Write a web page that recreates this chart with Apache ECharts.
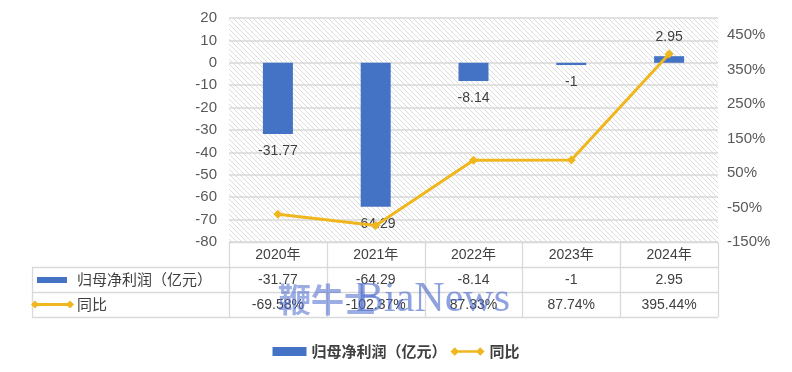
<!DOCTYPE html>
<html>
<head>
<meta charset="utf-8">
<script src="https://cdn.jsdelivr.net/npm/echarts@6/dist/echarts.min.js"></script>
<style>
html,body{margin:0;padding:0;background:#fff;}
#main{width:792px;height:372px;}
</style>
</head>
<body>
<div id="main"></div>
<script>
// ---- data ----
const categories = ['2020年', '2021年', '2022年', '2023年', '2024年'];
const profit = [-31.77, -64.29, -8.14, -1, 2.95];
const yoy = [-69.58, -102.37, 87.33, 87.74, 395.44];
const seriesNames = ['归母净利润（亿元）', '同比'];
const watermarkCN = '鞭牛士';
const watermarkEN = 'BiaNews';

// ---- layout ----
const W = 792, H = 372;
const G = { left: 229, right: 718, top: 18, bottom: 242 };
const rowH = 25;
const tableLeft = 32;
const BLUE = '#4472C4';
const GOLD = '#F0B61E';
const TXT = '#404040';
const AX = '#595959';
const BORDER = '#D9D9D9';
const FONT = "'Liberation Sans','Noto Sans CJK SC',sans-serif";

// hatch pattern
const pc = document.createElement('canvas');
pc.width = 5; pc.height = 5;
const ctx = pc.getContext('2d');
ctx.fillStyle = '#fff';
ctx.fillRect(0, 0, 5, 5);
ctx.strokeStyle = '#dcdcdc';
ctx.lineWidth = 1;
ctx.beginPath();
ctx.moveTo(-1, -1); ctx.lineTo(6, 6);
ctx.moveTo(-1, 4); ctx.lineTo(1, 6);
ctx.moveTo(4, -1); ctx.lineTo(6, 1);
ctx.stroke();

const chart = echarts.init(document.getElementById('main'), null, { renderer: 'canvas' });

const graphics = [];
function hline(x1, x2, y) {
  graphics.push({ type: 'line', silent: true, z: 5, shape: { x1, y1: y + 0.5, x2, y2: y + 0.5 }, style: { stroke: BORDER, lineWidth: 1.3 } });
}
function vline(x, y1, y2) {
  graphics.push({ type: 'line', silent: true, z: 5, shape: { x1: x + 0.5, y1, x2: x + 0.5, y2 }, style: { stroke: BORDER, lineWidth: 1.3 } });
}
hline(G.left, G.right, G.bottom);
hline(tableLeft, G.right, G.bottom + rowH);
hline(tableLeft, G.right, G.bottom + 2 * rowH);
hline(tableLeft, G.right, G.bottom + 3 * rowH);
vline(tableLeft, G.bottom + rowH, G.bottom + 3 * rowH);
const colW = (G.right - G.left) / categories.length;
for (let i = 0; i <= categories.length; i++) {
  vline(Math.round(G.left + i * colW), G.bottom, G.bottom + 3 * rowH);
}
// table legend keys
graphics.push({ type: 'rect', z: 6, shape: { x: 37, y: G.bottom + rowH + 10, width: 30, height: 6 }, style: { fill: BLUE } });
graphics.push({ type: 'text', z: 6, style: { x: 77, y: G.bottom + rowH * 1.5, text: seriesNames[0], font: "15px 'Noto Sans CJK SC'", fill: TXT, textVerticalAlign: 'middle' } });
const ly = G.bottom + rowH * 2.5;
graphics.push({ type: 'line', z: 6, shape: { x1: 35, y1: ly, x2: 70, y2: ly }, style: { stroke: GOLD, lineWidth: 3 } });
[35, 70].forEach(function (x) {
  graphics.push({ type: 'polygon', z: 7, shape: { points: [[x, ly - 4], [x + 4, ly], [x, ly + 4], [x - 4, ly]] }, style: { fill: GOLD } });
});
graphics.push({ type: 'text', z: 6, style: { x: 77, y: ly, text: seriesNames[1], font: "15px 'Noto Sans CJK SC'", fill: TXT, textVerticalAlign: 'middle' } });
// watermark
graphics.push({ type: 'text', z: 20, style: { x: 278, y: 299, text: watermarkCN, font: "bold 33px 'Noto Sans CJK SC'", fill: 'rgba(75,105,205,0.55)', textVerticalAlign: 'middle' } });
graphics.push({ type: 'text', z: 20, style: { x: 356, y: 300, text: watermarkEN, font: "42px 'Liberation Serif'", fill: 'rgba(75,105,205,0.62)', textVerticalAlign: 'middle' } });

const lineIcon = 'path://M0,5L5,0L10,5L5,10ZM5,3.4L35,3.4L35,6.6L5,6.6ZM30,5L35,0L40,5L35,10Z';

const option = {
  animation: false,
  backgroundColor: '#fff',
  textStyle: { fontFamily: FONT },
  grid: {
    left: G.left, right: W - G.right, top: G.top, bottom: H - G.bottom,
    show: true, backgroundColor: { image: pc, repeat: 'repeat' }, borderWidth: 0
  },
  legend: {
    bottom: 8, left: 'center', itemGap: 4, itemWidth: 34, itemHeight: 9,
    textStyle: { fontSize: 15, color: TXT, fontFamily: "'Noto Sans CJK SC'", fontWeight: 'bold' },
    data: [{ name: seriesNames[0], icon: 'rect', itemStyle: { color: BLUE } },
           { name: seriesNames[1], icon: lineIcon, itemStyle: { color: GOLD } }]
  },
  xAxis: {
    type: 'category', data: categories,
    axisLine: { show: false }, axisTick: { show: false },
    axisLabel: {
      interval: 0, margin: 1, color: TXT, fontSize: 14, lineHeight: rowH,
      fontFamily: FONT,
      formatter: function (v, i) { return v + '\n' + profit[i] + '\n' + yoy[i].toFixed(2) + '%'; }
    }
  },
  yAxis: [{
    type: 'value', min: -80, max: 20, interval: 10,
    axisLine: { show: false }, axisTick: { show: false },
    axisLabel: { color: AX, fontSize: 15, margin: 12 },
    splitLine: { lineStyle: { color: BORDER, width: 1.5 } }
  }, {
    type: 'value', min: -150, max: 500, interval: 100,
    axisLine: { show: false }, axisTick: { show: false },
    axisLabel: { color: AX, fontSize: 15, margin: 9, formatter: function (v) { return v === 500 ? '' : v + '%'; } },
    splitLine: { show: false }
  }],
  series: [{
    name: seriesNames[0], type: 'bar', barWidth: 30, z: 2,
    itemStyle: { color: BLUE },
    data: profit.map(function (v) {
      return { value: v, label: { position: v < 0 ? 'bottom' : 'top', distance: v < 0 ? 10 : 12 } };
    }),
    label: { show: true, color: TXT, fontSize: 14, formatter: function (p) { return String(p.value); } }
  }, {
    name: seriesNames[1], type: 'line', yAxisIndex: 1, z: 3,
    data: yoy, symbol: 'diamond', symbolSize: 9,
    lineStyle: { color: GOLD, width: 3 }, itemStyle: { color: GOLD }
  }],
  graphic: graphics
};
chart.setOption(option);
</script>
</body>
</html>
